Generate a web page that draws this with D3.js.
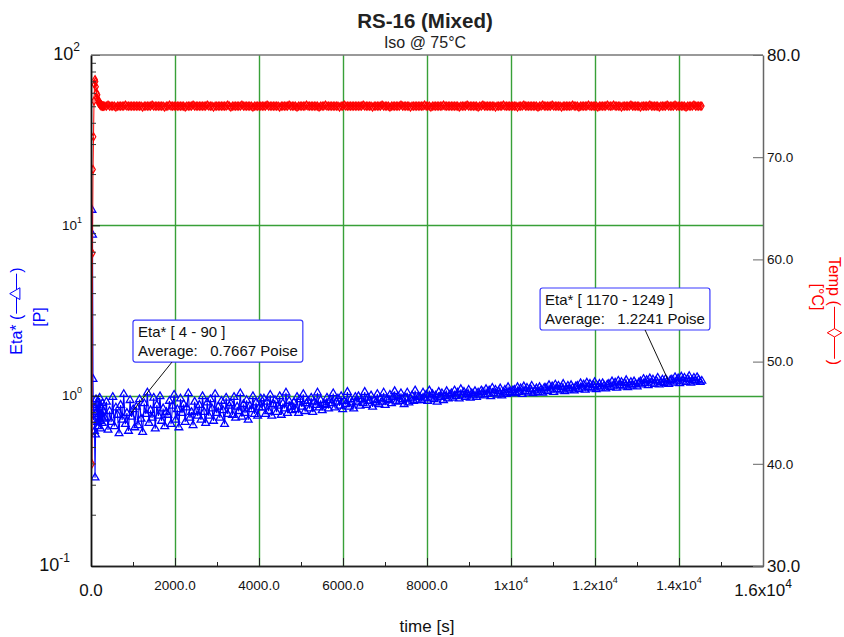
<!DOCTYPE html>
<html>
<head>
<meta charset="utf-8">
<script src="https://cdn.jsdelivr.net/npm/d3@7"></script>
<style>
  body { margin: 0; background: #fff; }
  svg { display: block; font-family: "Liberation Sans", Arial, Helvetica, sans-serif; }
  text { white-space: pre; }
</style>
</head>
<body>
<svg id="chart" width="844" height="637"></svg>
<script>
// RS-16 (Mixed) -- Eta* and temperature against time, iso hold at 75 C

///////////////////////////////////////////////////////////////////////////////
// Data

// heat-up part, logged every 12 s
var earlyTime = [24, 36, 48, 60, 72, 84, 96, 108, 120, 132, 144, 156,
                 168, 180, 192, 204, 216, 228, 240, 252, 264, 276, 288, 300];
var earlyEta = [12.3, 8.8, 1.25, 0.72, 0.85, 0.62, 0.33, 0.59, 0.95, 0.80, 0.88, 0.70,
                0.92, 0.66, 0.78, 0.97, 0.71, 0.64, 0.85, 0.75, 0.69, 0.90, 0.73, 0.81];
var earlyTemp = [40.0, 60.6, 68.8, 72.0, 75.5, 77.1, 77.6, 77.4, 76.9, 76.3, 75.8, 76.1,
                 75.6, 75.3, 75.5, 75.2, 75.1, 75.2, 75.0, 75.1, 75.0, 75.0, 75.0, 75.0];

// rest of the run, one sample every mainStep seconds from mainStart
var mainStart = 330,
    mainStep = 37.5;
var mainEta = [
  0.74, 0.92, 0.63, 0.81, 0.70, 0.98, 0.66, 0.85, 0.77, 0.60, 0.88, 0.72, 1.02, 0.68, 0.79, 0.62, 0.94, 0.75, 0.83, 0.65,
  0.86, 0.67, 0.95, 0.73, 0.61, 0.90, 0.78, 1.04, 0.69, 0.82, 0.74, 0.97, 0.64, 0.88, 0.76, 0.99, 0.71, 0.84, 0.66, 0.80,
  0.77, 0.93, 0.68, 0.87, 1.01, 0.72, 0.83, 0.65, 0.96, 0.79, 0.89, 0.70, 0.85, 1.03, 0.74, 0.80, 0.67, 0.92, 0.81, 0.76,
  0.88, 0.72, 0.99, 0.80, 0.69, 0.91, 0.76, 0.95, 0.84, 0.71, 1.02, 0.79, 0.86, 0.74, 0.93, 0.82, 0.68, 0.97, 0.78, 0.87,
  0.90, 0.77, 0.98, 0.74, 0.86, 0.81, 1.03, 0.75, 0.89, 0.79, 0.94, 0.72, 0.87, 0.83, 0.99, 0.78, 0.91, 0.76, 0.85, 0.96,
  0.85, 0.96, 0.78, 0.92, 0.81, 1.01, 0.76, 0.89, 0.94, 0.80, 0.87, 0.99, 0.77, 0.90, 0.84, 1.04, 0.79, 0.93, 0.86, 0.82,
  0.91, 0.83, 0.98, 0.79, 0.95, 0.86, 1.02, 0.81, 0.90, 0.93, 0.84, 0.97, 0.80, 0.92, 0.88, 1.04, 0.85, 0.94, 0.82, 0.89,
  0.88, 0.97, 0.84, 0.94, 0.90, 1.03, 0.85, 0.92, 0.96, 0.87, 0.99, 0.83, 0.93, 0.89, 1.05, 0.86, 0.95, 0.91, 0.84, 0.98,
  0.92, 0.99, 0.87, 0.95, 0.90, 1.05, 0.88, 0.97, 0.93, 1.00, 0.86, 0.94, 0.91, 1.02, 0.89, 0.96, 0.92, 1.04, 0.88, 0.95,
  0.94, 1.01, 0.90, 0.98, 1.06, 0.92, 0.99, 0.93, 1.03, 0.95, 0.89, 0.97, 1.04, 0.91, 0.96, 1.00, 0.93, 1.07, 0.94, 0.98,
  0.98, 0.94, 1.04, 0.96, 1.01, 0.93, 1.07, 0.97, 1.02, 0.95, 1.00, 0.92, 1.05, 0.98, 1.03, 0.94, 0.99, 1.06, 0.96, 1.01,
  1.03, 0.97, 1.07, 0.99, 1.04, 0.96, 1.09, 1.00, 1.05, 0.98, 1.02, 1.08, 0.97, 1.03, 1.00, 1.06, 0.98, 1.04, 1.01, 1.07,
  1.05, 1.00, 1.09, 1.02, 1.07, 0.99, 1.11, 1.03, 1.08, 1.01, 1.06, 1.10, 1.00, 1.04, 1.08, 1.02, 1.12, 1.05, 1.03, 1.07,
  1.08, 1.03, 1.12, 1.05, 1.10, 1.02, 1.13, 1.06, 1.11, 1.04, 1.09, 1.14, 1.03, 1.07, 1.10, 1.05, 1.12, 1.08, 1.04, 1.11,
  1.11, 1.06, 1.15, 1.08, 1.13, 1.05, 1.16, 1.09, 1.14, 1.07, 1.12, 1.17, 1.06, 1.10, 1.14, 1.08, 1.15, 1.11, 1.07, 1.13,
  1.14, 1.09, 1.18, 1.11, 1.16, 1.08, 1.19, 1.12, 1.17, 1.10, 1.15, 1.20, 1.09, 1.13, 1.17, 1.11, 1.18, 1.14, 1.10, 1.16,
  1.17, 1.12, 1.21, 1.14, 1.19, 1.11, 1.22, 1.15, 1.20, 1.13, 1.18, 1.23, 1.12, 1.16, 1.20, 1.14, 1.21, 1.17, 1.13, 1.19,
  1.21, 1.16, 1.25, 1.18, 1.23, 1.15, 1.26, 1.19, 1.24, 1.17, 1.22, 1.27, 1.16, 1.20, 1.24, 1.18, 1.25, 1.21, 1.17, 1.23,
  1.24, 1.19, 1.28, 1.21, 1.26, 1.18, 1.29, 1.22, 1.27, 1.20, 1.25, 1.30, 1.19, 1.23, 1.27, 1.21, 1.28, 1.24, 1.20, 1.22
];
var mainTemp = [
  75.0, 75.0, 75.1, 75.0, 75.0, 75.0, 75.0, 74.9, 75.0, 75.0, 75.0, 75.0, 75.0, 75.1, 75.0, 75.0, 75.0, 75.0, 75.0, 75.0,
  75.0, 75.0, 75.0, 75.0, 74.9, 75.0, 75.0, 75.0, 75.0, 75.0, 75.1, 75.0, 75.0, 75.0, 75.0, 75.0, 75.0, 75.0, 74.9, 75.0,
  75.0, 75.1, 75.0, 75.0, 75.0, 75.0, 75.0, 75.0, 75.0, 75.0, 75.0, 74.9, 75.0, 75.0, 75.0, 75.0, 75.1, 75.0, 75.0, 75.0,
  75.0, 75.0, 75.0, 75.0, 75.0, 75.1, 75.0, 75.0, 75.0, 74.9, 75.0, 75.0, 75.0, 75.0, 75.0, 75.0, 75.0, 75.0, 75.1, 75.0,
  74.9, 75.0, 75.0, 75.0, 75.0, 75.0, 75.0, 75.1, 75.0, 75.0, 75.0, 75.0, 75.0, 75.0, 74.9, 75.0, 75.0, 75.0, 75.0, 75.0,
  75.0, 75.0, 75.0, 75.1, 75.0, 75.0, 75.0, 75.0, 75.0, 75.0, 75.0, 74.9, 75.0, 75.0, 75.0, 75.0, 75.0, 75.1, 75.0, 75.0,
  75.0, 75.0, 74.9, 75.0, 75.0, 75.0, 75.0, 75.0, 75.1, 75.0, 75.0, 75.0, 75.0, 75.0, 75.0, 75.0, 74.9, 75.0, 75.0, 75.0,
  75.1, 75.0, 75.0, 75.0, 75.0, 75.0, 75.0, 75.0, 75.0, 74.9, 75.0, 75.0, 75.1, 75.0, 75.0, 75.0, 75.0, 75.0, 75.0, 75.0,
  75.0, 75.0, 75.0, 75.0, 75.1, 75.0, 75.0, 75.0, 75.0, 75.0, 74.9, 75.0, 75.0, 75.0, 75.0, 75.0, 75.1, 75.0, 75.0, 75.0,
  75.0, 74.9, 75.0, 75.0, 75.0, 75.0, 75.0, 75.0, 75.1, 75.0, 75.0, 75.0, 75.0, 75.0, 74.9, 75.0, 75.0, 75.0, 75.0, 75.0,
  75.0, 75.0, 75.0, 75.1, 75.0, 75.0, 75.0, 74.9, 75.0, 75.0, 75.0, 75.0, 75.0, 75.0, 75.0, 75.1, 75.0, 75.0, 75.0, 75.0,
  75.0, 75.0, 75.0, 75.0, 75.0, 74.9, 75.0, 75.0, 75.0, 75.0, 75.1, 75.0, 75.0, 75.0, 75.0, 75.0, 75.0, 74.9, 75.0, 75.0,
  75.1, 75.0, 75.0, 75.0, 75.0, 75.0, 75.0, 75.0, 74.9, 75.0, 75.0, 75.0, 75.0, 75.1, 75.0, 75.0, 75.0, 75.0, 75.0, 75.0,
  75.0, 75.0, 74.9, 75.0, 75.0, 75.0, 75.1, 75.0, 75.0, 75.0, 75.0, 75.0, 75.0, 75.0, 75.0, 74.9, 75.0, 75.0, 75.1, 75.0,
  75.0, 75.0, 75.0, 75.0, 75.1, 75.0, 75.0, 75.0, 75.0, 75.0, 74.9, 75.0, 75.0, 75.0, 75.0, 75.0, 75.0, 75.1, 75.0, 75.0,
  75.0, 74.9, 75.0, 75.0, 75.0, 75.0, 75.0, 75.1, 75.0, 75.0, 75.0, 75.0, 75.0, 74.9, 75.0, 75.0, 75.0, 75.0, 75.0, 75.1,
  75.0, 75.0, 75.0, 75.1, 75.0, 75.0, 75.0, 75.0, 74.9, 75.0, 75.0, 75.0, 75.0, 75.0, 75.1, 75.0, 75.0, 75.0, 75.0, 75.0,
  74.9, 75.0, 75.0, 75.0, 75.0, 75.0, 75.1, 75.0, 75.0, 75.0, 75.0, 75.0, 74.9, 75.0, 75.0, 75.0, 75.0, 75.1, 75.0, 75.0,
  75.0, 75.0, 75.1, 75.0, 75.0, 75.0, 75.0, 75.0, 75.0, 74.9, 75.0, 75.0, 75.0, 75.0, 75.1, 75.0, 75.0, 75.0, 75.0, 75.0
];

// axes
var xTicks = [0, 2000, 4000, 6000, 8000, 10000, 12000, 14000, 16000];
var xTickLabels = ["0.0", "2000.0", "4000.0", "6000.0", "8000.0",
                   "1x10^4", "1.2x10^4", "1.4x10^4", "1.6x10^4"];
var etaTicks = [0.1, 1, 10, 100];
var etaTickLabels = ["10^-1", "10^0", "10^1", "10^2"];
var tempTicks = [30, 40, 50, 60, 70, 80];
var tempTickLabels = ["30.0", "40.0", "50.0", "60.0", "70.0", "80.0"];

// averaged ranges written on the plot
var noteTitles = ["Eta* [ 4 - 90 ]", "Eta* [ 1170 - 1249 ]"];
var noteAverages = ["0.7667", "1.2241"];
var noteTime = [952, 13740];
var noteEta = [0.79, 1.236];

///////////////////////////////////////////////////////////////////////////////
// Setup

var svg = d3.select("#chart"),
    plotLeft = 91, plotRight = 763, plotTop = 55, plotBottom = 566,
    blue = "#0000ff", red = "#ff0000", gridColor = "#38a038";

var x = d3.scaleLinear().domain([0, 16000]).range([plotLeft, plotRight]);
var yEta = d3.scaleLog().domain([0.1, 100]).range([plotBottom, plotTop]);
var yTemp = d3.scaleLinear().domain([30, 80]).range([plotBottom, plotTop]);

var etaData = earlyTime.map(function (t, i) { return {t: t, v: earlyEta[i]}; })
  .concat(mainEta.map(function (v, i) { return {t: mainStart + i * mainStep, v: v}; }));
var tempData = earlyTime.map(function (t, i) { return {t: t, v: earlyTemp[i]}; })
  .concat(mainTemp.map(function (v, i) { return {t: mainStart + i * mainStep, v: v}; }));

svg.append("clipPath").attr("id", "plotArea")
  .append("rect")
  .attr("x", plotLeft).attr("y", plotTop)
  .attr("width", plotRight - plotLeft).attr("height", plotBottom - plotTop);

///////////////////////////////////////////////////////////////////////////////
// Grid

var grid = svg.append("g").attr("stroke", gridColor).attr("stroke-width", 1.4);

grid.selectAll("line.vgrid")
  .data(xTicks.slice(1, -1))
  .join("line")
  .attr("class", "vgrid")
  .attr("x1", function (d) { return Math.round(x(d)) + 0.5; })
  .attr("x2", function (d) { return Math.round(x(d)) + 0.5; })
  .attr("y1", plotTop).attr("y2", plotBottom);

grid.selectAll("line.hgrid")
  .data(etaTicks.slice(1, -1))
  .join("line")
  .attr("class", "hgrid")
  .attr("x1", plotLeft).attr("x2", plotRight)
  .attr("y1", function (d) { return Math.round(yEta(d)) + 0.5; })
  .attr("y2", function (d) { return Math.round(yEta(d)) + 0.5; });

///////////////////////////////////////////////////////////////////////////////
// Series

var plot = svg.append("g").attr("clip-path", "url(#plotArea)");

var etaLine = d3.line()
  .x(function (d) { return x(d.t); })
  .y(function (d) { return yEta(d.v); });
var tempLine = d3.line()
  .x(function (d) { return x(d.t); })
  .y(function (d) { return yTemp(d.v); });

plot.append("path")
  .datum(etaData)
  .attr("d", etaLine)
  .attr("fill", "none").attr("stroke", blue).attr("stroke-width", 1.1);

plot.append("g")
  .selectAll("path")
  .data(etaData)
  .join("path")
  .attr("d", d3.symbol(d3.symbolTriangle, 26))
  .attr("transform", function (d) { return "translate(" + x(d.t) + "," + yEta(d.v) + ")"; })
  .attr("fill", "none").attr("stroke", blue).attr("stroke-width", 1.3);

plot.append("path")
  .datum(tempData)
  .attr("d", tempLine)
  .attr("fill", "none").attr("stroke", red).attr("stroke-width", 1);

plot.append("g")
  .selectAll("path")
  .data(tempData)
  .join("path")
  .attr("d", d3.symbol(d3.symbolDiamond, 18))
  .attr("transform", function (d) { return "translate(" + x(d.t) + "," + yTemp(d.v) + ")"; })
  .attr("fill", "none").attr("stroke", red).attr("stroke-width", 1.2);

///////////////////////////////////////////////////////////////////////////////
// Axes

var xMinor = xTicks.slice(0, -1).map(function (d) { return d + 1000; });
var etaMinor = yEta.ticks().filter(function (d) { return etaTicks.indexOf(d) < 0; });

function tickAxis(axis, transform, color) {
  var g = svg.append("g").attr("transform", transform).call(axis);
  g.selectAll("text").remove();
  g.selectAll(".tick line").attr("stroke", color);
  g.select(".domain").attr("stroke", color).attr("stroke-width", 1.5);
  return g;
}

tickAxis(d3.axisBottom(x).tickValues(xMinor).tickSizeInner(-4).tickSizeOuter(0),
         "translate(0," + plotBottom + ")", "#222");
tickAxis(d3.axisBottom(x).tickValues(xTicks).tickSizeInner(-8).tickSizeOuter(0),
         "translate(0," + plotBottom + ")", "#222");
tickAxis(d3.axisLeft(yEta).tickValues(etaMinor).tickSizeInner(-5).tickSizeOuter(0),
         "translate(" + plotLeft + ",0)", "#333");
tickAxis(d3.axisLeft(yEta).tickValues(etaTicks).tickSizeInner(-9).tickSizeOuter(0),
         "translate(" + plotLeft + ",0)", "#111");
tickAxis(d3.axisRight(yTemp).tickValues(tempTicks).tickSizeInner(-10).tickSizeOuter(0),
         "translate(" + plotRight + ",0)", "#666");

svg.append("line")
  .attr("x1", plotLeft).attr("x2", plotRight).attr("y1", plotTop).attr("y2", plotTop)
  .attr("stroke", "#777").attr("stroke-width", 1.5);

// label with an optional ^superscript
function powerLabel(sel, label, size) {
  var parts = label.split("^");
  sel.append("tspan").attr("font-size", size).text(parts[0]);
  if (parts.length > 1) {
    sel.append("tspan")
      .attr("font-size", Math.round(size * 0.68))
      .attr("dy", -size * 0.5)
      .text(parts[1]);
  }
}

xTicks.forEach(function (t, i) {
  var big = i === 0 || i === xTicks.length - 1;
  var label = svg.append("text")
    .attr("x", x(t))
    .attr("y", big ? 596 : 590)
    .attr("text-anchor", "middle")
    .attr("fill", "#111");
  powerLabel(label, xTickLabels[i], big ? 17 : 13.5);
});

etaTicks.forEach(function (v, i) {
  var big = i === 0 || i === etaTicks.length - 1;
  var pad = i === 0 ? 21 : (big ? 11 : 9);
  var label = svg.append("text")
    .attr("x", plotLeft - pad)
    .attr("y", yEta(v) + 4.5)
    .attr("text-anchor", "end")
    .attr("fill", "#111");
  powerLabel(label, etaTickLabels[i], big ? 18 : 13.5);
});

tempTicks.forEach(function (v, i) {
  var big = i === 0 || i === tempTicks.length - 1;
  svg.append("text")
    .attr("x", plotRight + 4)
    .attr("y", yTemp(v))
    .attr("dy", "0.36em")
    .attr("font-size", big ? 17 : 13.5)
    .attr("fill", "#111")
    .text(tempTickLabels[i]);
});

///////////////////////////////////////////////////////////////////////////////
// Titles

svg.append("text")
  .attr("x", 425).attr("y", 28)
  .attr("text-anchor", "middle")
  .attr("font-size", 20.5).attr("font-weight", "bold").attr("fill", "#222")
  .text("RS-16 (Mixed)");

svg.append("text")
  .attr("x", 425).attr("y", 48)
  .attr("text-anchor", "middle")
  .attr("font-size", 16).attr("fill", "#222")
  .text("Iso @ 75°C");

svg.append("text")
  .attr("x", 427).attr("y", 632)
  .attr("text-anchor", "middle")
  .attr("font-size", 17).attr("fill", "#111")
  .text("time [s]");

// "Name (—marker—)" written along a vertical axis
function seriesTitle(px, py, angle, name, marker, segLen, color) {
  var outer = svg.append("g")
    .attr("transform", "translate(" + px + "," + py + ") rotate(" + angle + ")");
  var g = outer.append("g");
  var t1 = g.append("text").attr("font-size", 16).attr("fill", color).text(name + " (");
  var w = t1.node().getComputedTextLength() + 1;
  g.append("line")
    .attr("x1", w).attr("x2", w + segLen).attr("y1", -5.5).attr("y2", -5.5)
    .attr("stroke", color).attr("stroke-width", 1);
  g.append("path")
    .attr("d", d3.symbol(marker, 60))
    .attr("transform", "translate(" + (w + segLen / 2) + ",-5.5)")
    .attr("fill", "#fff").attr("stroke", color).attr("stroke-width", 1);
  var t2 = g.append("text").attr("x", w + segLen + 1)
    .attr("font-size", 16).attr("fill", color).text(")");
  var total = w + segLen + 1 + t2.node().getComputedTextLength();
  g.attr("transform", "translate(" + (-total / 2) + ",0)");
}

function unitTitle(px, py, angle, text, color) {
  svg.append("text")
    .attr("transform", "translate(" + px + "," + py + ") rotate(" + angle + ")")
    .attr("text-anchor", "middle")
    .attr("font-size", 16).attr("fill", color)
    .text(text);
}

seriesTitle(22, 311, -90, "Eta*", d3.symbolTriangle, 40, blue);
unitTitle(45, 317, -90, "[P]", blue);
seriesTitle(829, 311, 90, "Temp", d3.symbolDiamond, 52, red);
unitTitle(812, 297, 90, "[°C]", red);

///////////////////////////////////////////////////////////////////////////////
// Average notes

var noteOffsets = [
  {dx: 2, dy: -93, lead: 39},
  {dx: -128, dy: -92, lead: 105}
];

noteTitles.forEach(function (title, i) {
  var ax = x(noteTime[i]),
      ay = yEta(noteEta[i]),
      bx = ax + noteOffsets[i].dx,
      by = ay + noteOffsets[i].dy,
      g = svg.append("g");

  var box = g.append("rect")
    .attr("x", bx).attr("y", by).attr("height", 42).attr("rx", 2.5)
    .attr("fill", "#fff").attr("stroke", "#3a3aff").attr("stroke-width", 1.2);

  var l1 = g.append("text").attr("x", bx + 5).attr("y", by + 17)
    .attr("font-size", 15).attr("fill", "#111").text(title);
  var l2 = g.append("text").attr("x", bx + 5).attr("y", by + 36)
    .attr("font-size", 15).attr("fill", "#111")
    .text("Average:   " + noteAverages[i] + " Poise");

  var w = Math.max(l1.node().getComputedTextLength(), l2.node().getComputedTextLength());
  box.attr("width", w + 10);

  g.append("line")
    .attr("x1", bx + noteOffsets[i].lead).attr("y1", by + 42)
    .attr("x2", ax).attr("y2", ay)
    .attr("stroke", "#111").attr("stroke-width", 1);
});
</script>
</body>
</html>
